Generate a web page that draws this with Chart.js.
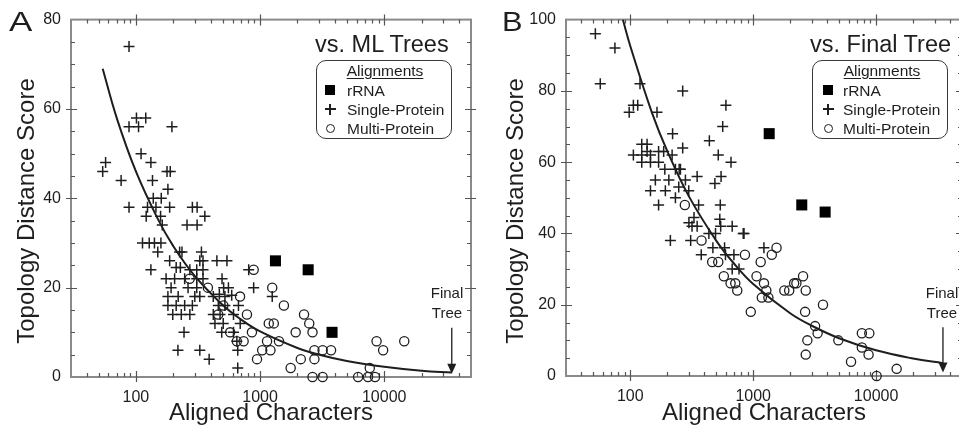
<!DOCTYPE html>
<html>
<head>
<meta charset="utf-8">
<script src="https://cdn.jsdelivr.net/npm/chart.js@4/dist/chart.umd.min.js"></script>
<style>
  body { margin:0; width:959px; height:428px; overflow:hidden; background:#fff; position:relative;
         font-family:"Liberation Sans", Arial, sans-serif; color:#1e1e1e; }
  .panel { position:absolute; top:0; height:428px; }
  .t { position:absolute; white-space:nowrap; line-height:18px; font-size:15.5px; }
  .letter { position:absolute; font-size:28px; line-height:1; transform-origin:left top; }
  .sub { position:absolute; font-size:23.5px; line-height:1; white-space:nowrap; }
  .ytitle { position:absolute; width:300px; height:28px; line-height:28px; font-size:24px;
            text-align:center; transform:rotate(-90deg); white-space:nowrap; }
  .box { position:absolute; width:136px; height:79px; box-sizing:border-box;
         border:1.5px solid #3a3a3a; border-radius:10px; }
  .sq { position:absolute; width:10px; height:10px; background:#000; }
  .bar { position:absolute; background:#1e1e1e; }
  .ring { position:absolute; width:9px; height:9px; box-sizing:border-box; border:1.3px solid #1e1e1e; border-radius:50%; }
  .final { position:absolute; width:50px; text-align:center; font-size:15px; line-height:20px; }
</style>
</head>
<body>
<div class="panel" style="left:0;width:480px"><canvas id="chartA" width="480" height="428"></canvas></div>
<div class="panel" style="left:480px;width:492px"><canvas id="chartB" width="492" height="428"></canvas></div>

<div class="letter" style="left:9px;top:8px;transform:scaleX(1.25)">A</div>
<div class="letter" style="left:502px;top:8px;transform:scaleX(1.1)">B</div>
<div class="sub" style="left:315px;top:33px">vs. ML Trees</div>
<div class="sub" style="left:810px;top:33px">vs. Final Tree</div>
<div class="ytitle" style="left:-124.5px;top:197px">Topology Distance Score</div>
<div class="ytitle" style="left:364.5px;top:197px">Topology Distance Score</div>
<div class="final" style="left:422px;top:283px">Final<br>Tree</div>
<div class="final" style="left:917px;top:283px">Final<br>Tree</div>
<div id="legends"></div>

<script>
// ─── Data ────────────────────────────────────────────────────────────────────

const xMajorTicks = [100, 1000, 10000];
const xMinorTicks = [40, 50, 60, 70, 80, 90, 200, 300, 400, 500, 600, 700, 800, 900,
  2000, 3000, 4000, 5000, 6000, 7000, 8000, 9000, 20000, 30000, 40000];
const finalTreeX = 35000;

// Panel A: vs. ML Trees
const aSingleX = [88, 54, 57, 76, 88, 88, 101, 105, 120, 195, 110, 132, 136, 178, 189, 181,
  124, 138, 160, 145, 187, 121, 158, 163, 285, 311, 359, 258, 311, 113, 128, 141, 159, 150,
  132, 225, 235, 187, 211, 228, 175, 205, 192, 181, 219, 181, 211, 247, 285, 198, 232, 272,
  337, 327, 347, 309, 347, 449, 541, 272, 247, 309, 347, 263, 309, 298, 327, 494, 509, 556,
  810, 888, 521, 244, 218, 327, 389, 661, 661, 470, 591, 461, 521, 670, 420, 476, 611, 433,
  505, 692, 491, 611, 650, 1253, 420];
const aSingleY = [74, 46, 48, 44, 38, 56, 58, 56, 58, 56, 50, 48, 44, 46, 46, 42,
  38, 40, 40, 38, 38, 36, 36, 34, 38, 38, 36, 34, 34, 30, 30, 30, 30, 28,
  24, 28, 28, 26, 24.5, 24.5, 22, 22, 20, 18, 18, 16, 16, 16, 16, 14, 14, 14,
  28, 26, 26, 24, 24, 26, 26, 24, 22, 22, 22, 20, 20, 18, 18, 22, 20, 20,
  24, 20, 18, 10, 6, 6, 4, 2, 6, 18.5, 18.3, 16, 16, 16, 14, 14, 14, 12,
  12, 12, 10, 10, 8, 18, 18];
const aMultiX = [888, 1253, 271, 380, 690, 506, 460, 784, 574, 650, 737, 860, 945, 1040,
  1212, 1138, 1175, 1290, 1556, 1420, 1936, 2260, 2489, 2645, 2128, 1764, 2740, 3190, 3730,
  2740, 2645, 3190, 6160, 7400, 8430, 7650, 8680, 9800, 14500];
const aMultiY = [24, 20, 22, 20, 18, 16, 14, 14, 10, 8, 8, 10, 4, 6,
  6, 8, 12, 12, 16, 8, 10, 14, 12, 10, 4, 2, 6, 6, 6,
  4, 0, 0, 0, 0, 0, 2, 8, 6, 8];
const aRrnaX = [1330, 2440, 3800];
const aRrnaY = [26, 24, 10];
const aFitX = [54, 70, 100, 150, 200, 300, 500, 700, 1000, 2000, 3000, 5000, 10000, 20000, 35000];
const aFitY = [69, 58, 46, 35.4, 29.3, 22.5, 16.1, 12.9, 10.2, 6.5, 5.0, 3.6, 2.3, 1.4, 1.0];

// Panel B: vs. Final Tree
const bSingleX = [52, 75, 57, 120, 267, 600, 565, 98, 106, 115, 165, 221, 267, 440, 520, 660,
  350, 250, 488, 548, 540, 535, 675, 830, 212, 310, 378, 470, 585, 697, 1223,
  124, 137, 137, 106, 124, 146, 170, 187, 219, 124, 146, 170, 191, 233, 256, 160, 206,
  146, 193, 248, 281, 170, 233, 299, 360, 330, 350, 318, 494, 300, 436, 675, 767, 595,
  842, 544];
const bSingleY = [96, 92, 82, 82, 80, 76, 70, 74, 76, 76, 74, 68, 64, 66, 62, 60,
  56, 58, 54, 56, 48, 44, 42, 40, 38, 38, 34, 36, 36, 34, 36,
  65, 65, 63, 62, 62, 62, 63, 63, 62, 60, 60, 60, 58, 58, 58, 55, 55,
  52, 52, 53, 55, 48, 50, 52, 48, 44.5, 42, 42, 40, 43, 40, 30, 30, 34,
  40, 42];
const bMultiX = [278, 380, 464, 520, 577, 655, 715, 742, 857, 1065, 1151, 1224, 1279, 1176,
  1330, 956, 1417, 1549, 1793, 1963, 2153, 2247, 2546, 2677, 2645, 3698, 3188, 3344, 2759,
  2677, 4929, 6254, 7661, 8807, 7661, 8690, 10100, 14700];
const bMultiY = [48, 38, 32, 32, 28, 26, 26, 24, 34, 28, 32, 26, 24, 22,
  22, 18, 34, 36, 24, 24, 26, 26, 28, 24, 18, 20, 14, 12, 10,
  6, 10, 4, 12, 12, 8, 6, 0, 2];
const bRrnaX = [1350, 2485, 3850];
const bRrnaY = [68, 48, 46];
const bFitX = [87, 100, 150, 200, 300, 500, 700, 1000, 2000, 3000, 5000, 10000, 20000, 35000];
const bFitY = [100, 92.6, 73.9, 63.1, 50.4, 38.0, 31.5, 25.8, 17.6, 14.1, 10.6, 7.2, 4.9, 3.6];

// ─── Helpers ─────────────────────────────────────────────────────────────────

const INK = '#1e1e1e';
const pts = (xs, ys) => xs.map((x, i) => ({ x, y: ys[i] }));

// gray frame with inward ticks on all four sides
const frameTicks = {
  id: 'frameTicks',
  beforeDatasetsDraw(chart, args, opts) {
    const { ctx, chartArea: a, scales: { x, y } } = chart;
    ctx.save();
    ctx.strokeStyle = '#8a8a8a';
    ctx.lineWidth = 2;
    ctx.strokeRect(a.left, a.top, a.right - a.left, a.bottom - a.top);
    ctx.strokeStyle = '#555';
    ctx.lineWidth = 1.2;
    ctx.beginPath();
    xMinorTicks.forEach(v => {
      const px = Math.round(x.getPixelForValue(v)) + 0.5;
      ctx.moveTo(px, a.bottom); ctx.lineTo(px, a.bottom - 4);
      ctx.moveTo(px, a.top); ctx.lineTo(px, a.top + 4);
    });
    xMajorTicks.forEach(v => {
      const px = Math.round(x.getPixelForValue(v)) + 0.5;
      ctx.moveTo(px, a.bottom + 5); ctx.lineTo(px, a.bottom - 6);
      ctx.moveTo(px, a.top - 5); ctx.lineTo(px, a.top + 6);
    });
    for (let v = opts.yStep; v < opts.yMax; v += opts.yStep) {
      const py = Math.round(y.getPixelForValue(v)) + 0.5;
      const major = v % 20 === 0;
      ctx.moveTo(a.left - (major ? 5 : 0), py); ctx.lineTo(a.left + (major ? 6 : 4), py);
      ctx.moveTo(a.right + (major ? 5 : 0), py); ctx.lineTo(a.right - (major ? 6 : 4), py);
    }
    ctx.stroke();
    ctx.restore();
  },
};

// "Final Tree" arrow
const finalArrow = {
  id: 'finalArrow',
  afterDatasetsDraw(chart, args, opts) {
    const { ctx, scales: { x, y } } = chart;
    const px = x.getPixelForValue(finalTreeX);
    const top = y.getPixelForValue(opts.top);
    const tip = y.getPixelForValue(opts.tip);
    ctx.save();
    ctx.strokeStyle = INK;
    ctx.fillStyle = INK;
    ctx.lineWidth = 1.3;
    ctx.beginPath();
    ctx.moveTo(px, top); ctx.lineTo(px, tip - 8);
    ctx.stroke();
    ctx.beginPath();
    ctx.moveTo(px - 4.5, tip - 10); ctx.lineTo(px + 4.5, tip - 10); ctx.lineTo(px, tip);
    ctx.closePath();
    ctx.fill();
    ctx.restore();
  },
};

function makeChart(id, cfg) {
  return new Chart(document.getElementById(id), {
    type: 'scatter',
    data: {
      datasets: [
        { data: pts(cfg.fitX, cfg.fitY), showLine: true, tension: 0.4, borderColor: INK,
          borderWidth: 2, pointRadius: 0, order: 0 },
        { data: pts(cfg.singleX, cfg.singleY), pointStyle: 'cross', pointRadius: 5.5,
          borderColor: INK, pointBorderWidth: 1.5, clip: false },
        { data: pts(cfg.multiX, cfg.multiY), pointStyle: 'circle', pointRadius: 4.6,
          borderColor: INK, backgroundColor: 'rgba(0,0,0,0)', pointBorderWidth: 1.3, clip: false },
        { data: pts(cfg.rrnaX, cfg.rrnaY), pointStyle: 'rect', pointRadius: 7.8,
          borderColor: '#000', backgroundColor: '#000', pointBorderWidth: 0, clip: false },
      ],
    },
    options: {
      animation: false,
      responsive: false,
      layout: { padding: { top: 18, right: cfg.padRight, left: 0, bottom: 0 } },
      plugins: {
        legend: { display: false },
        tooltip: { enabled: false },
        frameTicks: { yStep: 5, yMax: cfg.yMax },
        finalArrow: { top: cfg.arrowTop, tip: cfg.arrowTip },
      },
      scales: {
        x: {
          type: 'logarithmic', min: 30, max: 50000,
          grid: { display: false, drawTicks: false }, border: { display: false },
          afterBuildTicks: s => { s.ticks = xMajorTicks.map(v => ({ value: v })); },
          afterFit: s => { s.height = cfg.xHeight; },
          ticks: { callback: v => String(v), autoSkip: false, maxRotation: 0, padding: 11,
                   color: INK, font: { family: 'Liberation Sans', size: 16 } },
          title: { display: true, text: 'Aligned Characters', color: INK, padding: 0,
                   font: { family: 'Liberation Sans', size: 24 } },
        },
        y: {
          min: 0, max: cfg.yMax,
          grid: { display: false, drawTicks: false }, border: { display: false },
          afterFit: s => { s.width = cfg.yWidth; },
          ticks: { stepSize: 20, padding: 10, color: INK, font: { family: 'Liberation Sans', size: 16 } },
        },
      },
    },
    plugins: [frameTicks, finalArrow],
  });
}

makeChart('chartA', {
  singleX: aSingleX, singleY: aSingleY, multiX: aMultiX, multiY: aMultiY,
  rrnaX: aRrnaX, rrnaY: aRrnaY, fitX: aFitX, fitY: aFitY,
  yMax: 80, yWidth: 71, xHeight: 51, padRight: 9, arrowTop: 11, arrowTip: 0.7,
});
makeChart('chartB', {
  singleX: bSingleX, singleY: bSingleY, multiX: bMultiX, multiY: bMultiY,
  rrnaX: bRrnaX, rrnaY: bRrnaY, fitX: bFitX, fitY: bFitY,
  yMax: 100, yWidth: 86, xHeight: 52, padRight: 10, arrowTop: 13.7, arrowTip: 1.0,
});

// ─── Legends (HTML) ──────────────────────────────────────────────────────────

function legendHtml(boxLeft, mx, tx, titleCx) {
  return `<div class="box" style="left:${boxLeft}px;top:60px"></div>
  <div class="t" style="left:${titleCx - 50}px;top:61.6px;width:100px;text-align:center;text-decoration:underline;text-underline-offset:2px">Alignments</div>
  <div class="sq" style="left:${mx - 5}px;top:85px"></div>
  <div class="t" style="left:${tx}px;top:81.6px">rRNA</div>
  <div class="bar" style="left:${mx - 5.5}px;top:108.3px;width:11px;height:1.5px"></div>
  <div class="bar" style="left:${mx - 0.75}px;top:103.5px;width:1.5px;height:11px"></div>
  <div class="t" style="left:${tx}px;top:100.6px">Single-Protein</div>
  <div class="ring" style="left:${mx - 4.5}px;top:123.5px"></div>
  <div class="t" style="left:${tx}px;top:119.6px">Multi-Protein</div>`;
}
document.getElementById('legends').innerHTML =
  legendHtml(316, 330, 347, 385) + legendHtml(812, 828, 843, 882);
</script>
</body>
</html>
